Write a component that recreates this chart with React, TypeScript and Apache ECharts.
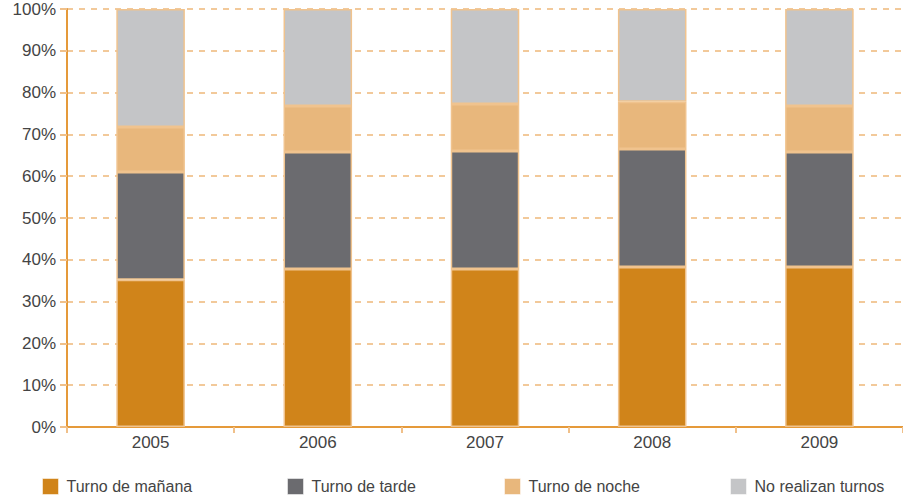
import React, { useEffect, useRef } from "react";
import * as echarts from "echarts";

const years = ["2005", "2006", "2007", "2008", "2009"];
const seriesNames = ["Turno de mañana", "Turno de tarde", "Turno de noche", "No realizan turnos"];
const manana = [35.2, 37.8, 37.8, 38.3, 38.3];
const tarde = [25.8, 28.0, 28.2, 28.2, 27.5];
const noche = [10.8, 11.0, 11.3, 11.3, 11.0];
const noRealizan = [28.2, 23.2, 22.7, 22.2, 23.2];
const colors = ["#D0841A", "#6B6B6F", "#E8B77C", "#C4C5C7"];
const legendLeft = [42, 287, 504, 730];

export default function App() {
  const ref = useRef<HTMLDivElement>(null);
  useEffect(() => {
    if (!ref.current) return;
    const chart = echarts.init(ref.current, undefined, { renderer: "svg" });
    const data = [manana, tarde, noche, noRealizan];
    const font = "Liberation Sans, Arial, sans-serif";
    chart.setOption({
      animation: false,
      grid: { left: 67, right: -9, top: 9, bottom: 70, containLabel: false },
      legend: seriesNames.map((n, i) => ({
        data: [n],
        left: legendLeft[i],
        top: 478,
        padding: 0,
        itemWidth: 16,
        itemHeight: 16,
        icon: "rect",
        itemStyle: { borderColor: "rgba(255,255,255,0.5)", borderWidth: 1 },
        textStyle: { fontSize: 16, color: "#444", fontFamily: font, padding: [0, 0, 0, 3] },
        selectedMode: false,
      })),
      xAxis: {
        type: "category",
        data: years,
        axisLine: { lineStyle: { color: "#E59A3A", width: 2 } },
        axisTick: { show: true, length: 6, lineStyle: { color: "#F0C08A", width: 2 } },
        axisLabel: { fontSize: 17, color: "#444", fontFamily: font, margin: 7 },
      },
      yAxis: {
        type: "value",
        min: 0,
        max: 100,
        interval: 10,
        axisLine: { show: true, lineStyle: { color: "#E59A3A", width: 2 } },
        axisTick: { show: true, length: 7, lineStyle: { color: "#F0C08A", width: 2 } },
        axisLabel: { formatter: "{value}%", fontSize: 17, color: "#444", fontFamily: font, margin: 11 },
        splitLine: { lineStyle: { color: "#F2C99A", type: [6, 6], width: 2 } },
      },
      series: seriesNames.map((n, i) => ({
        name: n,
        type: "bar",
        stack: "total",
        barWidth: "41%",
        data: data[i],
        itemStyle: { color: colors[i], borderColor: "#F0C38E", borderWidth: 1.5 },
      })),
    });
    return () => chart.dispose();
  }, []);
  return <div ref={ref} style={{ position: "absolute", left: 0, top: 0, width: 903, height: 497 }} />;
}
